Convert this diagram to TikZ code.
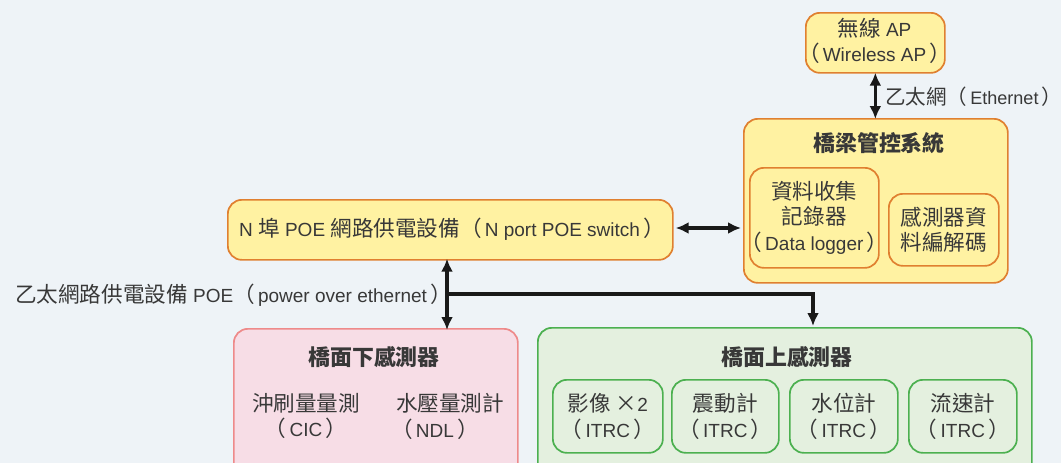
\documentclass[tikz,border=0pt]{standalone}
\usepackage{fontspec}
\setmainfont{Liberation Sans}[Scale=0.95]
\newfontfamily\cjkfont{Noto Sans CJK TC}[Scale=1.08]
\newcommand{\zh}[1]{{\cjkfont #1}}
\newcommand{\zhr}{{\cjkfont\addfontfeature{RawFeature=+halt}）}}
\usetikzlibrary{arrows.meta,calc}
\definecolor{bg}{HTML}{EEF3F7}
\definecolor{yfill}{HTML}{FFF2A2}
\definecolor{ydraw}{HTML}{E08030}
\definecolor{pfill}{HTML}{F7DDE6}
\definecolor{pdraw}{HTML}{EE8A8A}
\definecolor{gfill}{HTML}{E4F0DF}
\definecolor{gdraw}{HTML}{4CB050}
\definecolor{txt}{HTML}{383838}
\tikzset{
  box/.style={rounded corners=14pt, line width=1.7pt, inner sep=0pt, anchor=north west, text=txt, align=center},
  ybox/.style={box, draw=ydraw, fill=yfill},
  pbox/.style={box, draw=pdraw, fill=pfill},
  gbox/.style={box, draw=gdraw, fill=gfill},
  lbl/.style={text=txt, inner sep=0pt, align=center, font=\fontsize{20}{25.5}\selectfont},
  ttl/.style={text=txt, inner sep=0pt, font=\fontsize{20.3}{24}\selectfont\bfseries},
  conn/.style={line width=3.4pt, black!90, {Latex[length=13pt,width=12pt]}-{Latex[length=13pt,width=12pt]}},
  conn1/.style={line width=3.4pt, black!90, -{Latex[length=13pt,width=12pt]}},
}
\begin{document}
\begin{tikzpicture}[x=1pt,y=-1pt]
\fill[bg] (0,0) rectangle (1061,463);
\useasboundingbox (0,0) rectangle (1061,463);
% AP
\node[ybox, minimum width=139pt, minimum height=60pt] (ap) at (805,12) {};
\node[lbl] (apt) at (874.5,41) {\zh{無線} AP\\\zh{（}\,Wireless AP\,\zh{）}};
% system
\node[ybox, minimum width=264pt, minimum height=164pt] (sys) at (743,118) {};
\node[ttl] (syst) at (879,143) {\zh{橋梁管控系統}};
\node[ybox, minimum width=129pt, minimum height=100pt] (dl) at (749,167) {};
\node[lbl] (dlt) at (dl.center) {\zh{資料收集}\\\zh{記錄器}\\\zh{（}\,Data logger\,\zh{）}};
\node[ybox, minimum width=110pt, minimum height=72pt] (cd) at (888,193) {};
\node[lbl] (cdt) at (cd.center) {\zh{感測器資}\\\zh{料編解碼}};
% switch
\node[ybox, minimum width=445pt, minimum height=60pt] (sw) at (227,199) {};
\node[lbl] (swt) at (452,229) {N \zh{埠} POE \zh{網路供電設備（}\,N port POE switch\,\zh{）}};
% pink
\node[pbox, minimum width=284pt, minimum height=150pt] (pk) at (233,328) {};
\node[ttl] (pkt) at (374,357) {\zh{橋面下感測器}};
\node[lbl] (pk1) at (306,416) {\zh{沖刷量量測}\\\zh{（}\,CIC\,\zh{）}};
\node[lbl] (pk2a) at (450,403) {\zh{水壓量測計}};
\node[lbl] (pk2b) at (435,429) {\zh{（}\,NDL\,\zh{）}};
% green
\node[gbox, minimum width=494pt, minimum height=150pt] (gr) at (537,327) {};
\node[ttl] (grt) at (787,357) {\zh{橋面上感測器}};
\node[gbox, minimum width=110pt, minimum height=73pt] (g1) at (552,379) {};
\node[lbl] (g1t) at (g1.center) {\zh{影像 ×}2\\\zh{（}\,ITRC\,\zh{）}};
\node[gbox, minimum width=107pt, minimum height=73pt] (g2) at (671,379) {};
\node[lbl] (g2t) at (g2.center) {\zh{震動計}\\\zh{（}\,ITRC\,\zh{）}};
\node[gbox, minimum width=108pt, minimum height=73pt] (g3) at (789,379) {};
\node[lbl] (g3t) at (g3.center) {\zh{水位計}\\\zh{（}\,ITRC\,\zh{）}};
\node[gbox, minimum width=108pt, minimum height=73pt] (g4) at (908,379) {};
\node[lbl] (g4t) at (g4.center) {\zh{流速計}\\\zh{（}\,ITRC\,\zh{）}};
% connectors
\draw[conn] ([yshift=1pt]ap.south) -- ([yshift=-1pt]ap.south |- sys.north);
\node[lbl, anchor=west, font=\fontsize{19}{24}\selectfont] (eth) at (885,97) {\zh{乙太網（}\,Ethernet\,\zhr};
\draw[conn] ([xshift=2pt]sw.east |- 0,228) -- ([xshift=-2pt]sys.west |- 0,228);
\draw[conn] ([yshift=2pt]sw.south -| 447,0) -- ([yshift=-2pt]pk.north -| 447,0);
\coordinate (br) at (447,294);
\coordinate (gin) at (813,326);
\draw[conn1] (br) -| (gin);
\node[lbl, anchor=east] (poe) at (452,295) {\zh{乙太網路供電設備} POE\zh{（}\,power over ethernet\,\zh{）}};
\end{tikzpicture}
\end{document}
